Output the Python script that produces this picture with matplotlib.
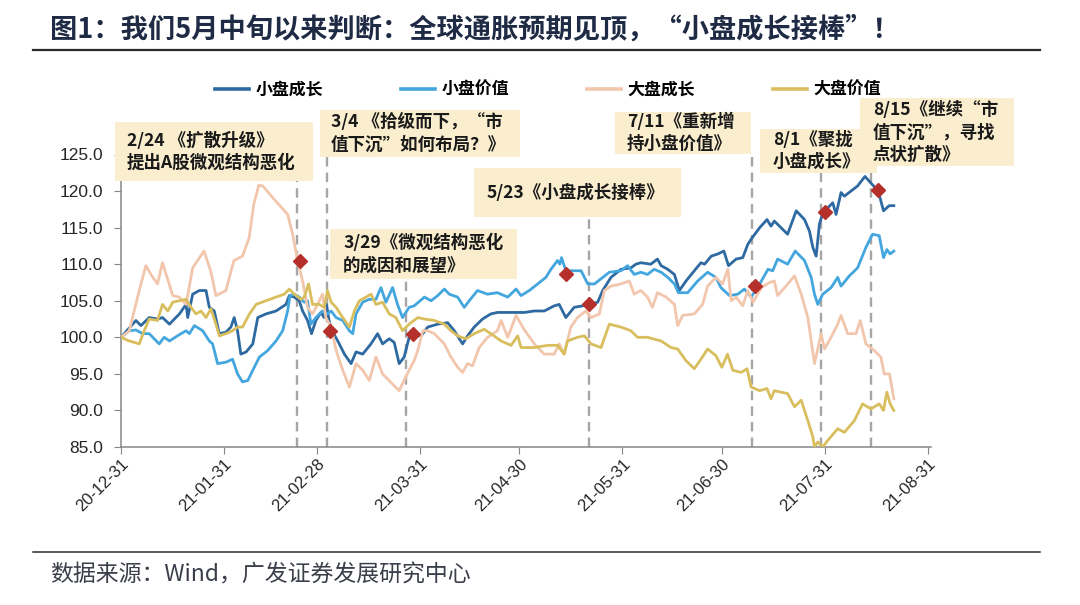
import matplotlib
matplotlib.use('Agg')
import matplotlib.pyplot as plt
import matplotlib.dates as mdates
import numpy as np
import pandas as pd
from matplotlib.lines import Line2D
from matplotlib.patches import Rectangle

plt.rcParams['font.family'] = ['Liberation Sans', 'Noto Sans CJK SC', 'DejaVu Sans']
CJK = ['Noto Sans CJK SC', 'DejaVu Sans']

# ---- data: days since 2020-12-31, index values (2020-12-31 = 100) ----
start = pd.Timestamp('2020-12-31')

sg_day = [0, 4.5, 6, 8.5, 11, 12.5, 14.6, 17.6, 19.6, 20.1, 21.6, 23.6, 25.6, 26.6, 28.1,
          29.6, 31.6, 33.1, 34.1, 35.1, 36.1, 37.7, 39.7, 41.2, 43.7, 46.7, 49.7, 50.7,
          52.2, 53.7, 54.7, 56.2, 57.4, 58.7, 60.2, 61.2, 61.9, 62.8, 63.8, 65.3, 67.3,
          69.3, 70.8, 72.8, 75.3, 77.3, 78.8, 80.8, 82.3, 83.8, 85.3, 86.8, 88.4, 90.4,
          92.4, 95.4, 98.4, 100.4, 102.9, 104.4, 106.4, 108.9, 111.4, 113.4, 115.5, 118.5,
          121.5, 124.5, 127.5, 130.5, 132, 133, 134, 136.5, 139, 141.1, 143.6, 145.1,
          147.6, 150.6, 153.6, 155.1, 156.6, 159.6, 161.6, 162.7, 164.7, 166.7, 168.2,
          170.2, 172.7, 174.7, 175.8, 177.8, 179.8, 181.6, 183, 185.3, 187.3, 188.8,
          189.8, 192.4, 194.6, 195.8, 196.8, 200.8, 203.4, 205.9, 207.4, 208.4, 209.4,
          210.4, 211.4, 212.9, 214.4, 215.4, 216.9, 217.9, 219.9, 221.9, 224.1, 225.9,
          228.1, 229.7, 231.4, 232.8]
sg_val = [100, 102.3, 101.6, 102.7, 102.5, 102.7, 101.8, 103.2, 104.5, 102.7, 105.9, 106.4,
          106.4, 104.1, 103.6, 100.5, 100.7, 101.4, 102.7, 100.9, 97.7, 98.0, 99.1, 102.7,
          103.2, 103.6, 104.5, 105.7, 105.5, 105.0, 103.6, 102.3, 100.5, 102.3, 103.4,
          102.7, 104.5, 102.0, 100.7, 99.5, 97.7, 96.4, 98.0, 97.7, 99.1, 100.5, 99.1,
          99.8, 99.3, 96.4, 97.3, 100.0, 100.5, 100.2, 101.4, 101.8, 102.0, 100.9, 99.1,
          100.2, 101.4, 102.5, 103.2, 103.4, 103.4, 103.4, 103.4, 103.6, 103.6, 104.3,
          104.5, 103.6, 102.7, 104.1, 104.3, 104.5, 104.8, 106.4, 108.2, 109.3, 109.5,
          110.0, 110.2, 110.0, 110.7, 109.8, 109.3, 108.6, 106.4, 107.7, 109.1, 110.2,
          110.0, 111.1, 111.4, 111.8, 109.8, 110.7, 110.9, 112.7, 113.4, 115.0, 116.1,
          115.2, 115.9, 114.1, 117.3, 116.1, 114.5, 112.3, 111.1, 115.5, 117.0, 117.7,
          118.4, 116.8, 119.8, 119.3, 120.0, 120.7, 122.0, 121.1, 120.0, 117.3, 118.0, 118.0]

sv_day = [0, 2.5, 4.5, 6.5, 8.5, 11.5, 13, 14.6, 17, 19.6, 20.6, 22.1, 24.6, 26.6, 27.6,
          29.1, 31.6, 33.6, 35.1, 36.6, 38.2, 39.7, 41.7, 44.2, 46.7, 48.7, 50.2, 50.9,
          52.2, 53.7, 55.2, 56.2, 57.2, 58.7, 60.7, 62.2, 63.3, 64.8, 66.8, 68.8, 69.8,
          70.8, 72.8, 74.8, 76.8, 78.3, 79.8, 81.8, 83.3, 84.8, 86.8, 88.3, 91.4, 93.4,
          95.4, 97.4, 98.9, 101.4, 103.4, 104.9, 107.4, 110.4, 113.4, 116.5, 119, 120.5,
          123, 125.5, 128, 129.5, 131.5, 132.2, 132.7, 134, 136.5, 138.6, 140.6, 142.6,
          144.6, 147.1, 150.6, 152.6, 154.6, 156.6, 158.6, 160.6, 162.7, 164.7, 166.7,
          167.9, 170.7, 173.7, 176.7, 179.2, 180.7, 183.3, 185.8, 187.8, 189.8, 192.4,
          194.9, 196.3, 197.8, 200.8, 203.1, 205.9, 207.9, 208.9, 209.9, 211.4, 213.9,
          215.9, 216.9, 219.4, 221.9, 224.4, 226.4, 228.4, 229.7, 230.7, 231.7, 232.8]
sv_val = [100, 100.9, 101.0, 100.5, 100.5, 99.1, 100.0, 99.5, 100.2, 100.9, 100.5, 101.6,
          100.9, 99.5, 99.1, 96.4, 96.6, 97.0, 95.0, 93.9, 94.1, 95.5, 97.3, 98.2, 99.5,
          100.9, 103.6, 105.7, 105.9, 105.5, 104.8, 105.0, 101.8, 102.7, 103.6, 103.2,
          103.6, 102.7, 102.3, 100.9, 100.5, 103.2, 104.8, 105.2, 105.2, 106.8, 104.8,
          106.8, 104.5, 102.7, 104.1, 104.3, 105.5, 105.0, 105.7, 106.6, 105.9, 105.5,
          104.1, 105.0, 106.4, 105.9, 106.1, 105.5, 106.6, 105.7, 106.4, 107.3, 108.2,
          109.3, 110.5, 110.0, 110.9, 109.1, 109.1, 109.1, 107.3, 107.3, 108.0, 108.9,
          109.1, 109.8, 108.6, 108.9, 108.6, 109.3, 108.9, 108.2, 107.3, 106.1, 106.1,
          107.7, 108.9, 108.2, 106.8, 105.7, 105.9, 106.6, 105.5, 107.3, 109.3, 109.1,
          110.7, 110.0, 111.8, 110.5, 108.2, 105.9, 104.5, 105.9, 106.8, 108.2, 107.0,
          108.4, 109.5, 112.3, 114.1, 113.9, 110.9, 112.0, 111.4, 111.8]

bg_day = [0, 2.5, 5.5, 7.5, 9, 11, 12.5, 14.5, 15.6, 17.5, 19.6, 21.6, 25, 27, 28.6, 31.6,
          34, 36.6, 38.6, 40, 41.5, 42.7, 45.7, 50.2, 51.7, 53.2, 54.7, 56.2, 57.7, 59.2,
          60.7, 61.7, 63.3, 64.8, 66.8, 68.8, 70.8, 72.8, 74.8, 76.8, 78.8, 81.8, 83.8,
          86, 88.3, 89.4, 90.9, 92.4, 94.4, 97.4, 99.4, 101.4, 102.9, 104.4, 105.9, 107.9,
          110.4, 113.4, 114.5, 116.5, 119, 121.4, 124.5, 127.5, 130.5, 132, 133.5, 135.5,
          137.5, 140, 141.6, 144.1, 145.6, 147.6, 150.6, 153.1, 154.6, 156.6, 158.6,
          160.1, 161.6, 164.2, 166.7, 167.7, 169.2, 172.7, 175.2, 176.7, 179.2, 181.2,
          182.8, 183.8, 185.3, 187.3, 188.8, 190.4, 192.9, 195.4, 196.8, 197.8, 200.3,
          202.9, 204.9, 206.9, 208.9, 210.9, 211.9, 213.9, 215.9, 216.9, 218.9, 221.4,
          222.7, 224.4, 226.9, 228.9, 229.9, 231.5, 232.8]
bg_val = [100, 100.9, 106.4, 109.8, 108.6, 107.3, 110.2, 107.3, 105.7, 105.5, 104.5, 109.5,
          111.8, 109.1, 105.7, 106.4, 110.5, 111.1, 113.6, 118.2, 120.8, 120.7, 119.1,
          116.8, 114.1, 110.5, 107.7, 104.1, 103.2, 104.5, 105.9, 102.7, 101.4, 98.2, 95.5,
          93.2, 96.4, 95.5, 94.1, 97.3, 95.0, 93.6, 92.7, 94.8, 96.8, 98.2, 100.9, 100.9,
          100.5, 99.1, 97.3, 95.9, 95.2, 96.4, 96.1, 98.6, 100.0, 100.9, 102.3, 100.0,
          103.0, 101.1, 99.1, 97.7, 97.7, 99.1, 97.7, 101.4, 102.7, 103.6, 102.7, 103.2,
          106.4, 107.0, 107.3, 107.7, 105.9, 106.4, 105.5, 104.1, 106.1, 105.5, 104.5,
          101.6, 103.0, 103.2, 104.5, 107.0, 108.2, 107.3, 109.3, 105.0, 105.5, 104.3,
          106.4, 104.8, 106.8, 107.5, 107.7, 105.7, 107.0, 108.4, 105.9, 102.7, 96.4,
          100.5, 98.4, 100.0, 101.8, 103.0, 100.5, 100.5, 102.3, 99.1, 98.2, 97.3, 95.0,
          95.0, 91.6]

bv_day = [0, 2.5, 5.5, 7, 8.5, 11, 12.5, 14.1, 15.6, 17.6, 19.6, 21.1, 22.6, 24.1, 25.6,
          27.1, 28.6, 29.6, 31.6, 33.6, 35.1, 36.6, 38.7, 40.7, 43.7, 46.7, 49.2, 50.7,
          52.2, 54.2, 55.2, 56.5, 57.7, 59.7, 61.2, 62.2, 63.3, 64.8, 66.8, 68.8, 70.3,
          71.8, 73.8, 75.3, 76.8, 78.8, 80.8, 82.8, 84.8, 86.8, 89.4, 91.4, 94.4, 97.4,
          99.4, 101.4, 103.9, 106.4, 109.4, 111.4, 114.5, 117.5, 119.5, 120.5, 124.5,
          128.5, 131.5, 133.5, 134.5, 137.5, 139.6, 141.6, 144.6, 147.1, 150.6, 153.6,
          155.6, 158.6, 162.7, 165.7, 167.7, 170.2, 172.7, 174.7, 176.7, 179.2, 181,
          182.7, 184.3, 186.8, 188.6, 189.8, 192.4, 194.6, 195.8, 196.8, 200.8, 202.9,
          204.9, 206.9, 208.4, 208.9, 209.9, 211.4, 212.9, 215.9, 217.9, 220.9, 223.4,
          225.9, 228.4, 229.7, 230.7, 231.7, 232.8]
bv_val = [100, 99.5, 99.1, 100.9, 102.5, 102.3, 104.5, 103.6, 104.8, 105.0, 105.2, 104.1,
          103.2, 103.6, 102.7, 103.9, 101.8, 100.2, 100.5, 100.9, 101.4, 101.4, 103.2,
          104.5, 105.0, 105.5, 105.9, 106.6, 105.9, 105.2, 105.5, 107.3, 104.5, 104.5,
          104.1, 106.4, 104.8, 104.1, 102.7, 101.4, 103.6, 105.0, 105.5, 105.9, 104.5,
          104.8, 103.2, 102.7, 100.9, 101.8, 102.7, 102.5, 102.3, 101.8, 100.9, 100.2,
          99.8, 100.5, 101.1, 100.5, 99.5, 98.9, 100.2, 98.6, 98.6, 98.9, 98.9, 97.7,
          99.5, 100.0, 100.2, 99.1, 98.6, 101.8, 101.4, 100.9, 100.0, 100.0, 99.5, 98.6,
          98.4, 96.8, 95.7, 97.0, 98.4, 97.5, 95.9, 97.7, 95.5, 95.2, 95.7, 93.2, 92.7,
          93.0, 91.6, 92.7, 92.3, 90.5, 91.4, 88.6, 86.4, 85.0, 85.7, 85.0, 85.9, 87.5,
          87.0, 88.6, 90.9, 90.2, 90.9, 90.0, 92.5, 90.9, 90.0]

series_names = ['小盘成长', '小盘价值', '大盘成长', '大盘价值']
series_days = [sg_day, sv_day, bg_day, bv_day]
series_vals = [sg_val, sv_val, bg_val, bv_val]
series_colors = ['#2E6AA1', '#43A6DE', '#F2C6AC', '#D9BE5E']

# report dates (dashed lines) and red diamond marks
event_dates = ['2021-02-22', '2021-03-03', '2021-03-27', '2021-05-21',
               '2021-07-09', '2021-07-30', '2021-08-14']
event_labels = ['2/24 《扩散升级》\n提出A股微观结构恶化',
                '3/4 《拾级而下，“市\n值下沉”如何布局？》',
                '3/29《微观结构恶化\n的成因和展望》',
                '5/23《小盘成长接棒》',
                '7/11《重新增\n持小盘价值》',
                '8/1《聚拢\n小盘成长》',
                '8/15《继续“市\n值下沉”，寻找\n点状扩散》']
mark_dates = ['2021-02-23', '2021-03-04', '2021-03-29', '2021-05-14',
              '2021-05-21', '2021-07-10', '2021-07-31', '2021-08-16']
mark_vals = [110.4, 100.8, 100.4, 108.7, 104.6, 107.0, 117.2, 120.2]

tick_dates = ['2020-12-31', '2021-01-31', '2021-02-28', '2021-03-31', '2021-04-30',
              '2021-05-31', '2021-06-30', '2021-07-31', '2021-08-31']

title = '图1：我们5月中旬以来判断：全球通胀预期见顶，“小盘成长接棒”！'
source = '数据来源：Wind，广发证券发展研究中心'

# ---- layout (pixels in a 1080x605 canvas) ----
W, H = 1080, 605
ax_l, ax_r, ax_t, ax_b = 121, 931, 154.5, 447
# annotation boxes: left, top, right, bottom, text x
boxes = [(115, 122, 313, 181, 127),
         (320, 110, 520, 157, 331),
         (330, 229, 517, 279, 343),
         (474, 168, 681, 217, 487),
         (615, 112, 751, 154, 627),
         (760, 129, 877, 173, 773),
         (860, 98, 1014, 166, 873)]


def fx(x):
    return x / W


def fy(y):
    return 1 - y / H


fig = plt.figure(figsize=(W / 100, H / 100), dpi=100)
ax = fig.add_axes([fx(ax_l), fy(ax_b), (ax_r - ax_l) / W, (ax_b - ax_t) / H])

for name, d, v, c in zip(series_names, series_days, series_vals, series_colors):
    x = start + pd.to_timedelta(d, unit='D')
    ax.plot(x, v, color=c, lw=2.0, label=name, solid_joinstyle='round', zorder=3)

ymin, ymax = 85, 125
ax.set_ylim(ymin, ymax)
ax.set_xlim(start, pd.Timestamp('2021-09-01'))

# dashed event lines, from axis up to the bottom of each box
for d, b in zip(event_dates, boxes):
    top = ymin + (ax_b - b[3]) / (ax_b - ax_t) * (ymax - ymin)
    ax.plot([pd.Timestamp(d)] * 2, [ymin, top], color='#A6A6A6', lw=1.7,
            linestyle=(0, (4, 2.6)), clip_on=False, zorder=2)

ax.plot(pd.to_datetime(mark_dates), mark_vals, linestyle='none', marker='D',
        ms=6.8, color='#B5302B', mec='#B5302B', zorder=5)

ax.set_yticks(np.arange(85, 126, 5))
ax.yaxis.set_major_formatter(plt.FormatStrFormatter('%.1f'))
ax.set_xticks(pd.to_datetime(tick_dates))
ax.xaxis.set_major_formatter(mdates.DateFormatter('%y-%m-%d'))
ax.tick_params(axis='y', labelsize=12.5, length=5, color='#868686', labelcolor='#262626', pad=8)
ax.tick_params(axis='x', labelsize=12, length=5, color='#868686', labelcolor='#262626', pad=2)
for lab in ax.get_xticklabels():
    lab.set_rotation(45)
    lab.set_ha('right')
    lab.set_va('top')
    lab.set_rotation_mode('anchor')
for s in ['top', 'right']:
    ax.spines[s].set_visible(False)
for s in ['left', 'bottom']:
    ax.spines[s].set_color('#868686')
    ax.spines[s].set_linewidth(1.1)

leg = fig.legend(loc='center', bbox_to_anchor=(fx(548), fy(89.5)), ncol=4, frameon=False,
                 prop={'family': CJK, 'size': 12.2, 'weight': 'bold'},
                 handlelength=2.0, handletextpad=0.4, columnspacing=4.6)
for h in leg.get_lines():
    h.set_linewidth(2.6)

# annotation boxes
for (l, t, r, b, tx), lab in zip(boxes, event_labels):
    fig.patches.append(Rectangle((fx(l), fy(b)), (r - l) / W, (b - t) / H,
                                 transform=fig.transFigure, facecolor='#FAEECF',
                                 edgecolor='none', zorder=4))
    fig.text(fx(tx), fy((t + b) / 2), lab, ha='left', va='center', fontsize=12.6,
             family=CJK, weight='bold', color='#1A1A1A', linespacing=1.3, zorder=5)

# title, rules and source
fig.text(fx(50), fy(30), title, ha='left', va='center', fontsize=19.6, weight='bold',
         family=CJK, color='#1F2B44')
fig.add_artist(Line2D([fx(33), fx(1040)], [fy(50), fy(50)], transform=fig.transFigure,
                      color='#2B2B2B', lw=1.6))
fig.add_artist(Line2D([fx(33), fx(1040)], [fy(551.5), fy(551.5)], transform=fig.transFigure,
                      color='#2B2B2B', lw=1.1))
fig.text(fx(50), fy(575), source, ha='left', va='center', fontsize=16.5,
         family=CJK, color='#3A3F4A')

fig.savefig('out.png', dpi=100)
